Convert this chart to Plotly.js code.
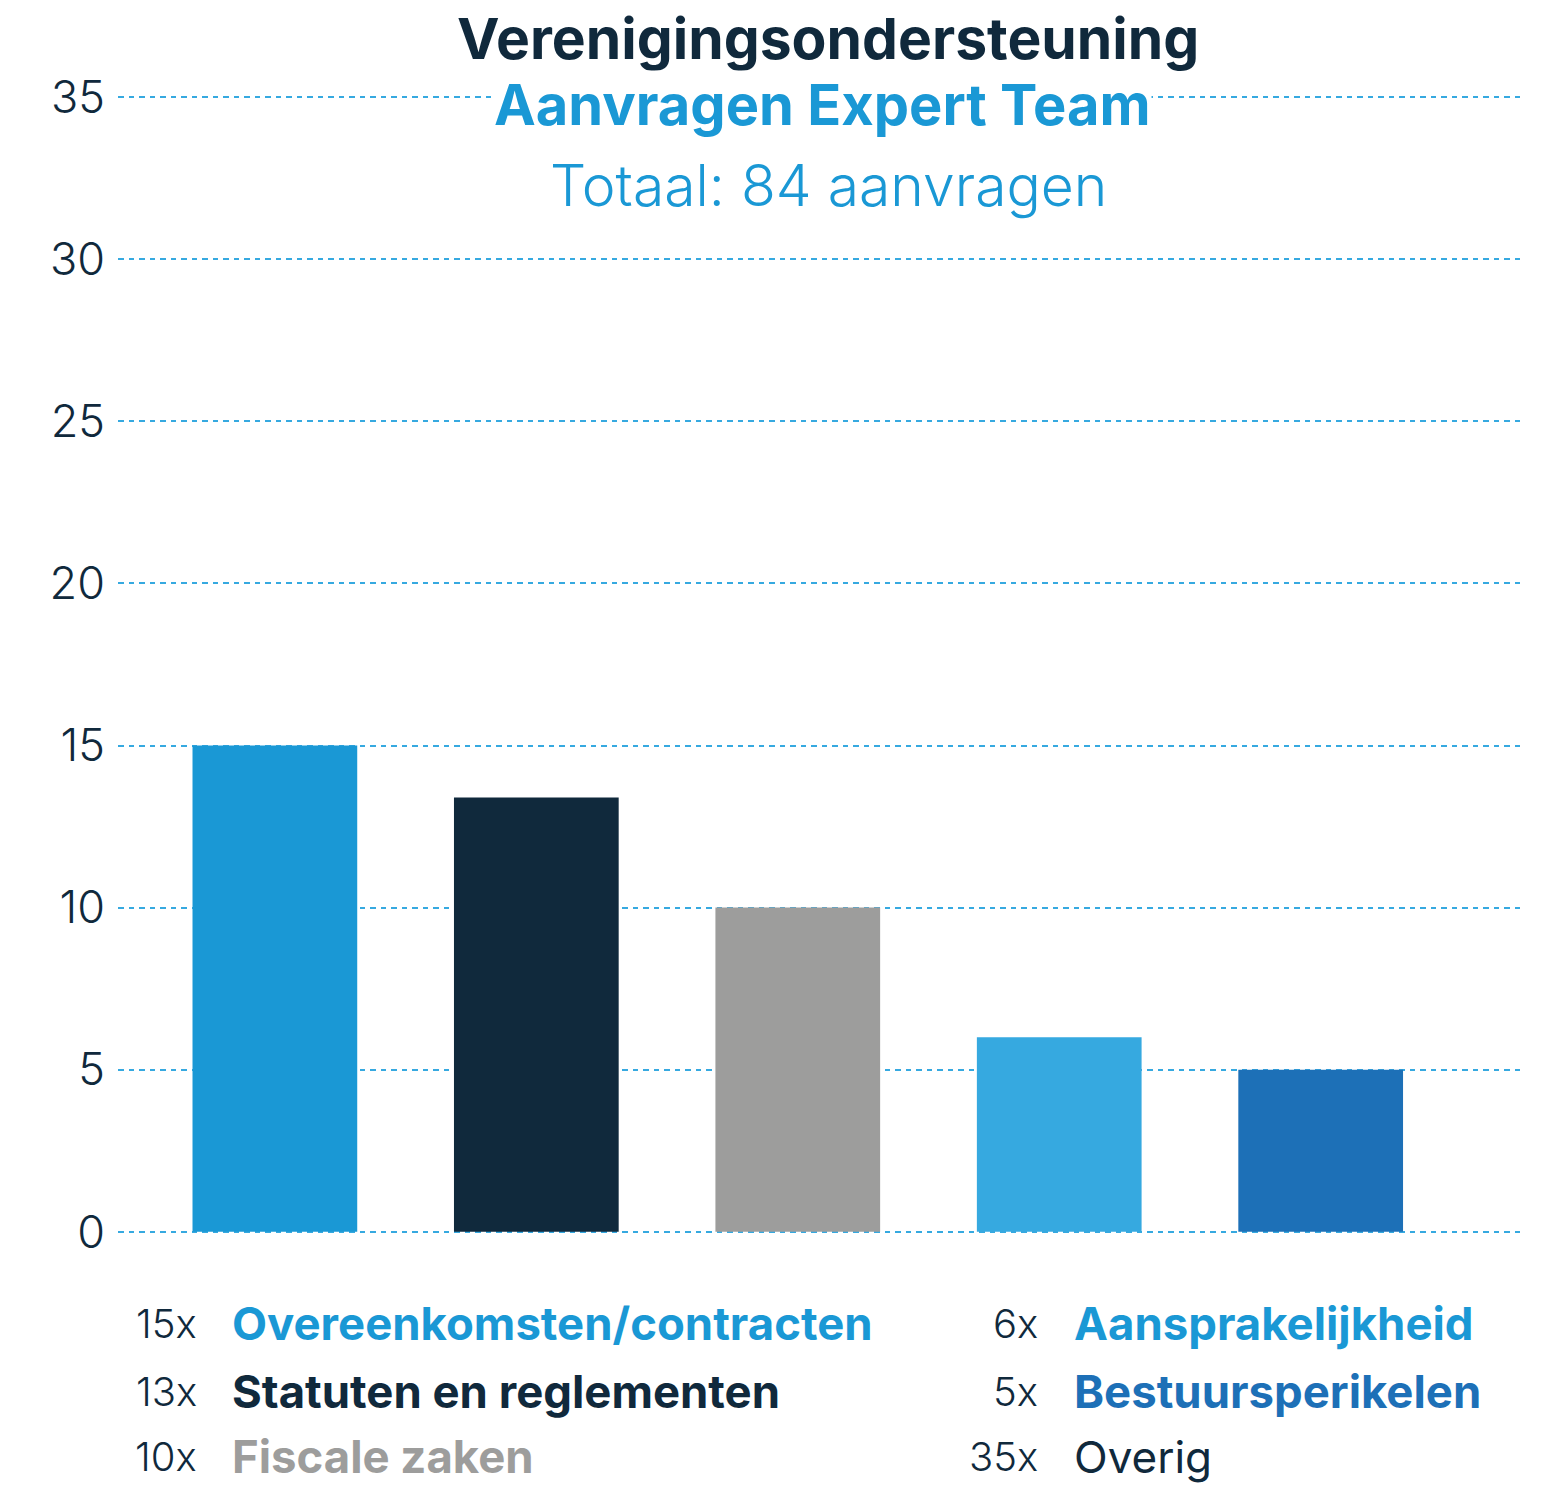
<!DOCTYPE html>
<html>
<head>
<meta charset="utf-8">
<script src="https://cdn.plot.ly/plotly-3.0.1.min.js"></script>
<style>
html,body{margin:0;padding:0;background:#fff;}
#chart{width:1542px;height:1487px;}
</style>
</head>
<body>
<div id="chart"></div>
<script>
// Data
var categories = ["Overeenkomsten/contracten", "Statuten en reglementen", "Fiscale zaken", "Aansprakelijkheid", "Bestuursperikelen"];
var barValues = [15, 13.4, 10, 6, 5];
var barColors = ["#1a98d5", "#10293c", "#9d9d9c", "#36a9e0", "#1d70b7"];
var legendCounts = ["15x", "13x", "10x", "6x", "5x", "35x"];
var legendLabels = ["Overeenkomsten/contracten", "Statuten en reglementen", "Fiscale zaken", "Aansprakelijkheid", "Bestuursperikelen", "Overig"];
var legendColors = ["#1a98d5", "#10293c", "#9d9d9c", "#1a98d5", "#1d70b7", "#10293c"];
var legendBold = [true, true, true, true, true, false];
var tickValues = [0, 5, 10, 15, 20, 25, 30, 35];
var titleMain = "Verenigingsondersteuning";
var titleSub = "Aanvragen Expert Team";
var titleTotal = "Totaal: 84 aanvragen";

var FONT = "Inter, 'Open Sans', sans-serif";
var NAVY = "#10293c";
var BLUE = "#1a98d5";

var trace = {
  type: "bar",
  x: categories,
  y: barValues,
  marker: {color: barColors, line: {width: 0}},
  width: 0.63,
  hoverinfo: "none"
};

// plot area geometry (pixels)
var L = 118, R = 20, T = 94, B = 252, W = 1542, H = 1487;
var pw = W - L - R, ph = H - T - B;
function px2x(p){ return (p - L) / pw; }
function py2y(p){ return (H - B - p) / ph; }

var annotations = [
  {text: titleMain, x: px2x(828), y: py2y(38), font: {family: FONT, size: 57, color: NAVY, weight: 700}},
  {text: titleSub, x: px2x(822), y: py2y(105), font: {family: FONT, size: 56, color: BLUE, weight: 700}, bgcolor: "#ffffff", borderpad: 0},
  {text: titleTotal, x: px2x(828), y: py2y(185), font: {family: FONT, size: 57, color: BLUE, weight: 300}}
];
annotations.forEach(function(a){ a.xref = "paper"; a.yref = "paper"; a.showarrow = false; a.xanchor = "center"; a.yanchor = "middle"; });

var rowY = [1323, 1391, 1457];
for (var i = 0; i < legendLabels.length; i++) {
  var col = i < 3 ? 0 : 1;
  var row = i % 3;
  var numX = col === 0 ? 199 : 1040;
  var labX = col === 0 ? 230 : 1072;
  annotations.push({
    xref: "paper", yref: "paper", showarrow: false,
    x: px2x(numX), y: py2y(rowY[row]), xanchor: "right", yanchor: "middle",
    text: legendCounts[i],
    font: {family: FONT, size: 40, color: NAVY, weight: 300}
  });
  annotations.push({
    xref: "paper", yref: "paper", showarrow: false,
    x: px2x(labX), y: py2y(rowY[row]), xanchor: "left", yanchor: "middle",
    text: legendLabels[i],
    font: {family: FONT, size: legendBold[i] ? 45.5 : 44, color: legendColors[i], weight: legendBold[i] ? 700 : 400}
  });
}

var layout = {
  width: W, height: H,
  margin: {l: L, r: R, t: T, b: B, pad: 0},
  paper_bgcolor: "#ffffff",
  plot_bgcolor: "#ffffff",
  showlegend: false,
  bargap: 0.37,
  xaxis: {
    type: "category",
    range: [-0.6, 4.77],
    showticklabels: false,
    showgrid: false,
    zeroline: false,
    showline: false,
    ticks: ""
  },
  yaxis: {
    range: [-0.1, 35.1],
    tickvals: tickValues,
    ticktext: tickValues.map(String),
    showgrid: true,
    gridcolor: "#36a9e0",
    gridwidth: 2,
    griddash: "5.5px,5px",
    zeroline: false,
    showline: false,
    ticks: "",
    ticklabelstandoff: 12,
    tickfont: {family: FONT, size: 45, color: NAVY, weight: 300}
  },
  annotations: annotations
};

Plotly.newPlot("chart", [trace], layout, {displayModeBar: false, staticPlot: true});
</script>
</body>
</html>
